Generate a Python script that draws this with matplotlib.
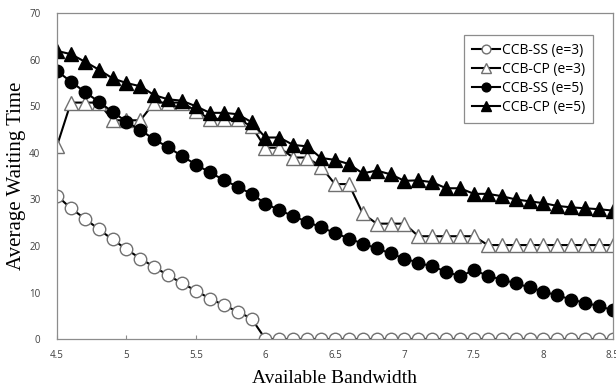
import numpy as np
import matplotlib.pyplot as plt

# bandwidth values 4.5 .. 8.5 step 0.1
bandwidth = np.round(np.arange(4.5, 8.51, 0.1), 1)

ss_e3 = [30.8, 28.1, 25.9, 23.6, 21.4, 19.3, 17.3, 15.5, 13.7, 12.0,
         10.4, 8.7, 7.3, 5.9, 4.4] + [0.0] * 26

cp_e3 = [41.5, 50.8, 50.8, 50.8, 47.0, 47.0, 47.0, 50.8, 50.8, 50.8,
         49.0, 47.3, 47.3, 47.3, 45.7, 41.1, 41.1, 39.0, 39.0, 37.0,
         33.3, 33.3, 27.0, 24.8, 24.8, 24.8, 22.1, 22.1, 22.1, 22.1,
         22.1, 20.2, 20.2, 20.2, 20.2, 20.2, 20.2, 20.2, 20.2, 20.2, 20.2]

ss_e5 = [57.6, 55.3, 53.1, 51.0, 48.8, 46.7, 44.9, 42.9, 41.2, 39.3,
         37.5, 35.8, 34.2, 32.7, 31.2, 29.1, 27.7, 26.4, 25.2, 24.0,
         22.8, 21.6, 20.5, 19.5, 18.4, 17.3, 16.4, 15.6, 14.5, 13.5,
         14.8, 13.6, 12.8, 12.0, 11.1, 10.2, 9.4, 8.5, 7.8, 7.1, 6.2]

cp_e5 = [61.9, 61.2, 59.6, 57.9, 56.0, 55.0, 54.3, 52.4, 51.5, 51.2,
         50.0, 48.6, 48.6, 48.3, 46.6, 43.3, 43.3, 41.7, 41.4, 38.9,
         38.5, 37.6, 35.6, 36.2, 35.4, 34.0, 34.1, 33.7, 32.4, 32.4,
         31.2, 31.2, 30.7, 30.0, 29.6, 29.2, 28.6, 28.3, 28.1, 27.9, 27.6]

xticks = [4.5, 5, 5.5, 6, 6.5, 7, 7.5, 8, 8.5]
xtick_labels = ["4.5", "5", "5.5", "6", "6.5", "7", "7.5", "8", "8.5"]
yticks = [0, 10, 20, 30, 40, 50, 60, 70]

fig = plt.figure(figsize=(6.16, 3.88), dpi=100)
ax = fig.add_axes([0.0925, 0.126, 0.9025, 0.84])

ax.plot(bandwidth, ss_e3, color="black", lw=1.5, marker="o", ms=9,
        mfc="white", mec="#707070", mew=1.0, label="CCB-SS (e=3)")
ax.plot(bandwidth, cp_e3, color="black", lw=1.5, marker="^", ms=10,
        mfc="white", mec="#707070", mew=1.0, label="CCB-CP (e=3)")
ax.plot(bandwidth, ss_e5, color="black", lw=1.5, marker="o", ms=9,
        mfc="black", mec="black", label="CCB-SS (e=5)")
ax.plot(bandwidth, cp_e5, color="black", lw=1.5, marker="^", ms=10,
        mfc="black", mec="black", label="CCB-CP (e=5)")

ax.set_xlim(4.5, 8.5)
ax.set_ylim(0, 70)
ax.set_xticks(xticks)
ax.set_xticklabels(xtick_labels)
ax.set_yticks(yticks)

for s in ax.spines.values():
    s.set_color("#8c8c8c")
    s.set_linewidth(0.9)

ax.tick_params(axis="x", direction="in", length=3, color="#8c8c8c",
               labelsize=7, labelcolor="#404040", pad=8)
ax.tick_params(axis="y", length=0, labelsize=7, labelcolor="#404040", pad=12)
for lab in ax.get_xticklabels() + ax.get_yticklabels():
    lab.set_family("Open Sans")

ax.set_xlabel("Available Bandwidth", family="Liberation Serif", fontsize=14,
              labelpad=6)
ax.set_ylabel("Average Waiting Time", family="Liberation Serif", fontsize=15,
              labelpad=2)

leg = ax.legend(loc="upper right", bbox_to_anchor=(0.977, 0.954),
                fancybox=False, edgecolor="#8c8c8c", framealpha=1,
                handlelength=2.0, handletextpad=0.2, borderpad=0.55,
                labelspacing=0.3, prop={"family": "Open Sans", "size": 10},
                markerscale=0.7)
leg.get_frame().set_linewidth(0.9)

fig.savefig("out.png", dpi=100)
